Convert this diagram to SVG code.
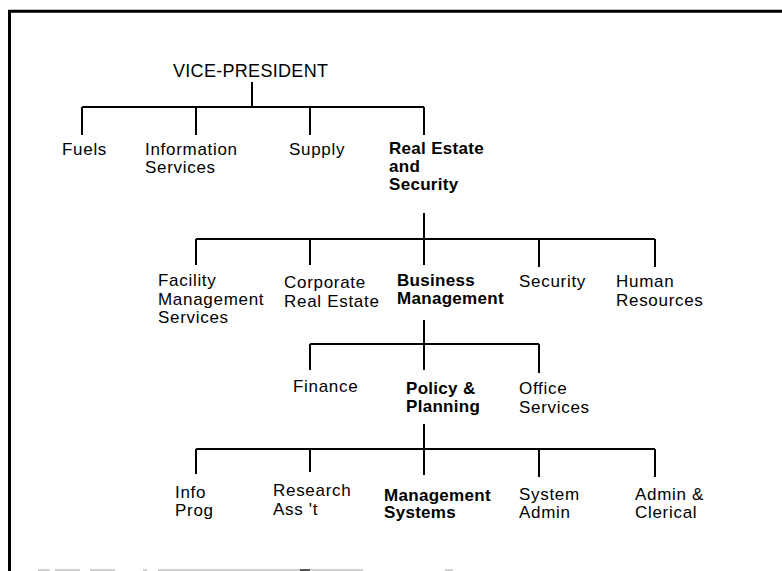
<svg xmlns="http://www.w3.org/2000/svg" width="782" height="571" viewBox="0 0 782 571">
  <style>
    .t { font-family: "Liberation Sans", Arial, sans-serif; font-size: 17px; fill: #000; letter-spacing: 0.7px; }
    .b { font-weight: bold; letter-spacing: 0.3px; }
    .vp { font-size: 18px; letter-spacing: 0.3px; }
    .ln { stroke: #000; stroke-width: 2; fill: none; }
    .frame { stroke: #000; stroke-width: 3; fill: none; }
    .faint { stroke: #d0d0d0; stroke-width: 2; fill: none; }
  </style>
  <rect width="782" height="571" fill="#fff"/>

  <!-- page frame -->
  <g id="frame">
    <path class="frame" d="M9.5 571 V11.3 H782"/>
    <path class="faint" d="M38 570 H50 M55 570 H80 M90 570 H115 M143 570 H147 M158 570 H363 M445 570 H453"/>
    <path d="M300 570 H310" stroke="#555" stroke-width="2"/>
  </g>

  <!-- connectors -->
  <g id="connectors">
    <!-- vice-president to divisions -->
    <path class="ln" d="M252 82 V107 M82 107 H424 M82 107 V135 M196 107 V135 M310 107 V135 M424 107 V135"/>
    <!-- real estate and security to departments -->
    <path class="ln" d="M424 213 V265 M196 239 H655 M196 239 V265 M310 239 V265 M539 239 V267 M655 239 V267"/>
    <!-- business management to sections -->
    <path class="ln" d="M424 320 V370 M310 344 H539 M310 344 V370 M539 344 V373"/>
    <!-- policy and planning to units -->
    <path class="ln" d="M424 424 V475 M196 449 H655 M196 449 V474 M310 449 V472 M539 449 V477 M655 449 V477"/>
  </g>

  <g id="vice-president"><text class="t vp" x="173" y="77">VICE-PRESIDENT</text></g>

  <g id="fuels"><text class="t" x="62" y="155">Fuels</text></g>
  <g id="information-services">
    <text class="t" x="145" y="155" letter-spacing="1.1">Information</text>
    <text class="t" x="145" y="173">Services</text>
  </g>
  <g id="supply"><text class="t" x="289" y="155">Supply</text></g>
  <g id="real-estate-security">
    <text class="t b" x="389" y="154">Real Estate</text>
    <text class="t b" x="389" y="172">and</text>
    <text class="t b" x="389" y="190">Security</text>
  </g>

  <g id="facility-management">
    <text class="t" x="158" y="286">Facility</text>
    <text class="t" x="158" y="304.5">Management</text>
    <text class="t" x="158" y="323">Services</text>
  </g>
  <g id="corporate-real-estate">
    <text class="t" x="284" y="288">Corporate</text>
    <text class="t" x="284" y="306.5">Real Estate</text>
  </g>
  <g id="business-management">
    <text class="t b" x="397" y="285.5">Business</text>
    <text class="t b" x="397" y="304">Management</text>
  </g>
  <g id="security"><text class="t" x="519" y="287">Security</text></g>
  <g id="human-resources">
    <text class="t" x="616" y="287">Human</text>
    <text class="t" x="616" y="305.5">Resources</text>
  </g>

  <g id="finance"><text class="t" x="293" y="392">Finance</text></g>
  <g id="policy-planning">
    <text class="t b" x="406" y="394">Policy &amp;</text>
    <text class="t b" x="406" y="412">Planning</text>
  </g>
  <g id="office-services">
    <text class="t" x="519" y="394">Office</text>
    <text class="t" x="519" y="413">Services</text>
  </g>

  <g id="info-prog">
    <text class="t" x="175" y="498">Info</text>
    <text class="t" x="175" y="516">Prog</text>
  </g>
  <g id="research-asst">
    <text class="t" x="273" y="496">Research</text>
    <text class="t" x="273" y="515">Ass 't</text>
  </g>
  <g id="management-systems">
    <text class="t b" x="384" y="500.5">Management</text>
    <text class="t b" x="384" y="518">Systems</text>
  </g>
  <g id="system-admin">
    <text class="t" x="519" y="500">System</text>
    <text class="t" x="519" y="518">Admin</text>
  </g>
  <g id="admin-clerical">
    <text class="t" x="635" y="500">Admin &amp;</text>
    <text class="t" x="635" y="518">Clerical</text>
  </g>
</svg>
